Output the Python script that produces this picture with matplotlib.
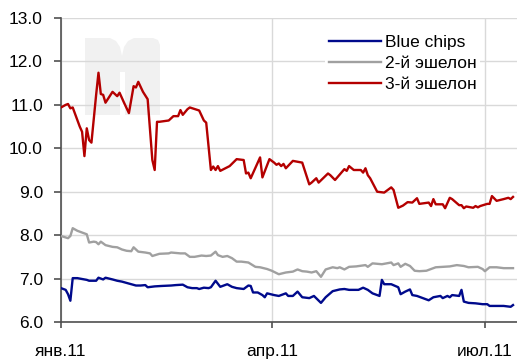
import matplotlib
matplotlib.use("Agg")
import matplotlib.pyplot as plt
from matplotlib.patches import Polygon, Rectangle
import pandas as pd

plt.rcParams['font.family'] = ['Liberation Sans', 'DejaVu Sans']

start = pd.Timestamp('2011-01-01')

# days since 1 Jan 2011 and index levels for each group
blue_days = [0, 2, 3, 4, 5, 7, 9, 11, 12, 15, 16, 18, 19, 22, 24, 26, 28, 30, 32, 34,
             36, 37, 40, 43, 47, 49, 52, 54, 56, 58, 59, 61, 63, 64, 66, 68, 71, 73, 75, 78,
             80, 81, 82, 84, 86, 87, 88, 91, 93, 96, 97, 99, 101, 103, 106, 108, 111, 113, 116, 119,
             121, 123, 127, 129, 131, 133, 136, 137, 138, 141, 144, 145, 147, 149, 150, 152, 154, 157, 159, 162,
             163, 165, 166, 167, 170, 171, 172, 174, 177, 180, 182, 183, 186, 189, 192, 193]
blue_vals = [6.78, 6.74, 6.64, 6.49, 7.01, 7.01, 6.99, 6.97, 6.95, 6.95, 7.02, 6.98, 7.02, 6.98, 6.95, 6.93, 6.90, 6.87, 6.84, 6.84,
             6.85, 6.80, 6.82, 6.83, 6.84, 6.85, 6.86, 6.80, 6.78, 6.78, 6.76, 6.79, 6.78, 6.80, 6.95, 6.81, 6.87, 6.81, 6.78, 6.76,
             6.84, 6.83, 6.68, 6.68, 6.62, 6.57, 6.66, 6.62, 6.60, 6.66, 6.60, 6.60, 6.70, 6.57, 6.55, 6.60, 6.44, 6.57, 6.71, 6.75,
             6.76, 6.74, 6.74, 6.79, 6.74, 6.66, 6.60, 6.97, 6.87, 6.87, 6.80, 6.64, 6.70, 6.75, 6.62, 6.60, 6.56, 6.50, 6.57, 6.60,
             6.55, 6.60, 6.57, 6.62, 6.60, 6.74, 6.47, 6.44, 6.43, 6.41, 6.41, 6.37, 6.37, 6.37, 6.35, 6.39]

second_days = [0, 3, 4, 5, 7, 9, 11, 12, 14, 15, 16, 17, 19, 22, 24, 26, 28, 30, 31, 33,
               36, 38, 39, 42, 46, 47, 51, 53, 55, 57, 60, 62, 64, 66, 67, 69, 71, 73, 75, 77,
               80, 83, 85, 88, 90, 93, 96, 99, 101, 103, 105, 107, 109, 111, 113, 116, 118, 119, 121, 123,
               126, 130, 131, 133, 135, 137, 141, 142, 144, 145, 147, 149, 151, 153, 156, 160, 163, 166, 169, 172,
               174, 178, 180, 181, 183, 186, 189, 192, 193]
second_vals = [7.98, 7.93, 7.98, 8.16, 8.10, 8.06, 8.02, 7.83, 7.85, 7.84, 7.79, 7.85, 7.77, 7.73, 7.72, 7.67, 7.64, 7.63, 7.72, 7.62,
               7.60, 7.58, 7.52, 7.57, 7.58, 7.60, 7.58, 7.58, 7.50, 7.50, 7.53, 7.52, 7.53, 7.62, 7.54, 7.50, 7.52, 7.47, 7.39, 7.39,
               7.37, 7.27, 7.26, 7.22, 7.18, 7.10, 7.14, 7.16, 7.21, 7.17, 7.16, 7.14, 7.17, 7.04, 7.21, 7.26, 7.24, 7.26, 7.21, 7.27,
               7.28, 7.31, 7.27, 7.35, 7.34, 7.33, 7.37, 7.31, 7.35, 7.27, 7.34, 7.29, 7.18, 7.17, 7.18, 7.26, 7.27, 7.28, 7.31, 7.29,
               7.26, 7.27, 7.22, 7.17, 7.26, 7.26, 7.24, 7.24, 7.24]

third_days = [0, 2, 3, 4, 5, 8, 9, 10, 11, 12, 13, 15, 16, 17, 18, 19, 22, 24, 25, 27,
              29, 31, 32, 33, 35, 37, 39, 40, 41, 42, 46, 48, 50, 51, 52, 54, 55, 59, 61, 62,
              64, 65, 66, 67, 68, 72, 75, 78, 79, 80, 81, 85, 86, 89, 91, 92, 93, 94, 95, 96,
              99, 101, 103, 106, 107, 109, 110, 114, 115, 117, 121, 122, 123, 125, 128, 129, 130, 131, 132, 135,
              138, 141, 142, 144, 146, 148, 150, 152, 153, 157, 158, 159, 160, 163, 164, 166, 167, 170, 171, 172,
              173, 176, 177, 178, 179, 182, 183, 184, 186, 189, 191, 192, 193]
third_vals = [10.94, 11.00, 11.02, 10.92, 10.94, 10.50, 10.38, 9.82, 10.46, 10.19, 10.13, 11.23, 11.74, 11.25, 11.23, 11.05, 11.30, 11.20, 11.28, 11.04,
              10.81, 11.43, 11.40, 11.53, 11.30, 11.13, 9.73, 9.50, 10.61, 10.61, 10.64, 10.74, 10.74, 10.88, 10.77, 10.90, 10.94, 10.87, 10.64, 10.59,
              9.50, 9.58, 9.50, 9.59, 9.48, 9.59, 9.75, 9.73, 9.42, 9.44, 9.31, 9.79, 9.33, 9.75, 9.67, 9.62, 9.65, 9.59, 9.64, 9.54,
              9.71, 9.69, 9.67, 9.17, 9.21, 9.31, 9.21, 9.42, 9.38, 9.27, 9.52, 9.48, 9.59, 9.50, 9.50, 9.44, 9.54, 9.38, 9.31, 9.00,
              8.98, 9.10, 9.04, 8.63, 8.68, 8.76, 8.75, 8.85, 8.72, 8.75, 8.67, 8.83, 8.71, 8.71, 8.62, 8.86, 8.83, 8.69, 8.69, 8.62,
              8.66, 8.63, 8.67, 8.64, 8.67, 8.72, 8.72, 8.90, 8.79, 8.83, 8.86, 8.83, 8.88]

tick_dates = ['2011-01-01', '2011-04-01', '2011-07-01']
tick_labels = ['янв.11', 'апр.11', 'июл.11']


def to_dates(days):
    return start + pd.to_timedelta(days, unit='D')


W, H = 517, 360
fig = plt.figure(figsize=(W / 100, H / 100), dpi=100)
ax = fig.add_axes([61 / W, 1 - 322 / H, 1 - 61 / W, (322 - 18) / H])

# faint logo in the upper left corner (pixel coordinates of the figure)
def px(x, y):
    return (x / W, 1 - y / H)

logo = [px(85, 115), px(85, 38), px(110, 38), px(116, 41), px(120, 47), px(122, 56),
        px(124, 47), px(128, 41), px(134, 38), px(153, 38), px(158, 40), px(160, 45),
        px(160, 115)]
ax.add_patch(Polygon(logo, closed=True, transform=fig.transFigure, facecolor='#f1f1f1',
                     edgecolor='none', zorder=0.5, clip_on=False))
ax.add_patch(Rectangle(px(120, 115), 5 / W, (115 - 72) / H, transform=fig.transFigure,
                       facecolor='white', edgecolor='none', zorder=0.6, clip_on=False))

ax.plot(to_dates(blue_days), blue_vals, color='#000a8c', lw=1.7, label='Blue chips', zorder=3)
ax.plot(to_dates(second_days), second_vals, color='#a0a0a0', lw=1.7, label='2-й эшелон', zorder=3)
ax.plot(to_dates(third_days), third_vals, color='#b40000', lw=1.7, label='3-й эшелон', zorder=3)

ax.set_ylim(6, 13)
ax.set_yticks(range(6, 14))
ax.set_yticklabels([f'{v:.1f}' for v in range(6, 14)])
ax.set_xlim(start, start + pd.Timedelta(days=194.7))
ax.set_xticks(pd.to_datetime(tick_dates))
ax.set_xticklabels(tick_labels)

ax.grid(True, color='#d9d9d9', lw=1.0, zorder=1)
ax.set_axisbelow(True)
for side in ['top', 'right']:
    ax.spines[side].set_visible(False)
for side in ['left', 'bottom']:
    ax.spines[side].set_color('#505050')
    ax.spines[side].set_linewidth(1.2)
ax.tick_params(axis='y', direction='out', length=5, width=1.2, color='#505050',
               pad=8, labelsize=12.5)
ax.tick_params(axis='x', direction='out', length=4, width=1.2, color='#505050',
               pad=12, labelsize=12.5)

leg = ax.legend(loc='upper left', bbox_to_anchor=(0.58, 0.955), fontsize=12.5,
                frameon=True, fancybox=False, framealpha=1, edgecolor='none',
                handlelength=3.0, handletextpad=0.25, labelspacing=0.33,
                borderpad=0.2, borderaxespad=0)
leg.get_frame().set_facecolor('white')

fig.savefig('out.png', dpi=100)
